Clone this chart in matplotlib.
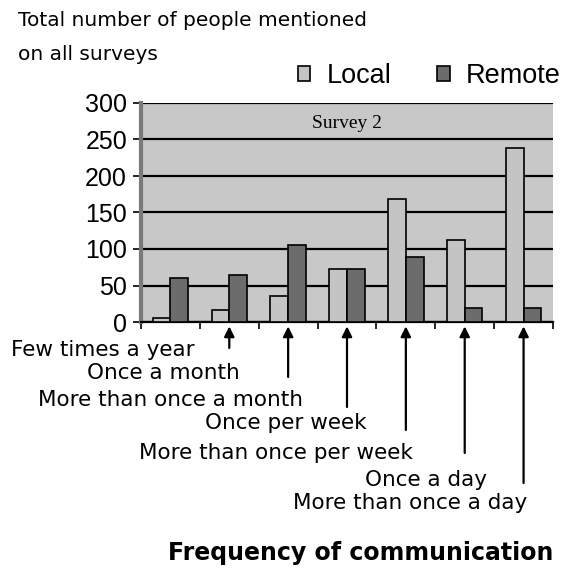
import matplotlib
matplotlib.use('Agg')
import matplotlib.pyplot as plt
import matplotlib.ticker as ticker
import numpy as np
from matplotlib import rcParams

rcParams['font.family'] = 'sans-serif'
rcParams['font.sans-serif'] = ['Liberation Sans Narrow', 'Liberation Sans', 'DejaVu Sans']

categories = ['Few times a year', 'Once a month', 'More than once a month',
              'Once per week', 'More than once per week', 'Once a day',
              'More than once a day']
local = [6, 16, 35, 72, 169, 112, 239]
remote = [60, 64, 105, 73, 89, 19, 19]
yticks = [0, 50, 100, 150, 200, 250, 300]

W, H = 568, 572
fig = plt.figure(figsize=(W / 100, H / 100), dpi=100)
fig.patch.set_facecolor('white')

# plot area in pixels: left 141, right 553, top 103, bottom 322
ax = fig.add_axes([141 / W, 1 - 322 / H, (553 - 141) / W, (322 - 103) / H])
ax.set_facecolor('#c8c8c8')

x = np.arange(len(categories))
bw = 0.3
ax.bar(x - bw / 2, local, bw, color='#c4c4c4', edgecolor='black', lw=1.2,
       label='Local', zorder=3)
ax.bar(x + bw / 2, remote, bw, color='#6c6c6c', edgecolor='black', lw=1.2,
       label='Remote', zorder=3)

ax.set_xlim(-0.5, len(categories) - 0.5)
ax.set_ylim(0, 300)
ax.set_yticks(yticks)
ax.yaxis.grid(True, color='black', lw=1.6, zorder=1)
ax.tick_params(axis='y', length=6, width=1.2, labelsize=18, pad=4)
ax.set_xticks([])
ax.xaxis.set_minor_locator(ticker.FixedLocator(np.arange(len(categories) + 1) - 0.5))
ax.tick_params(axis='x', which='minor', length=5, width=1.2, direction='out')

for s in ['top', 'right']:
    ax.spines[s].set_visible(False)
ax.spines['left'].set_color('#7a7a7a')
ax.spines['left'].set_linewidth(3)
ax.spines['bottom'].set_linewidth(1.6)

ax.text(0.5, 0.905, 'Survey 2', transform=ax.transAxes, ha='center', va='center',
        fontsize=14, family='Liberation Serif')

# legend
leg = ax.legend(loc='lower right', bbox_to_anchor=(1.045, 1.015), ncol=2, frameon=False,
                fontsize=19.5, handlelength=0.45, handleheight=0.45, handletextpad=0.6,
                columnspacing=1.7, borderaxespad=0)

# y label
fig.text(18 / W, 1 - 20 / H, 'Total number of people mentioned', fontsize=14.5,
         va='center', ha='left', family='DejaVu Sans')
fig.text(18 / W, 1 - 55 / H, 'on all surveys', fontsize=14.5, va='center', ha='left',
         family='DejaVu Sans')

# category labels below the axis, with arrows from the group centres
label_right = [195, 240, 303, 367, 413, 487, 527]
label_y = [350, 373, 400, 423, 453, 480, 503]
arrow_tail = [None, 348, 377, 407, 430, 453, 483]
xtrans = ax.get_xaxis_transform()
for i, cat in enumerate(categories):
    fig.text(label_right[i] / W, 1 - label_y[i] / H, cat, fontsize=15.5,
             ha='right', va='center', family='DejaVu Sans')
    if arrow_tail[i] is not None:
        ty = (322 - arrow_tail[i]) / (322 - 103)
        ax.annotate('', xy=(x[i], -0.02), xycoords=xtrans,
                    xytext=(x[i], ty), textcoords=xtrans,
                    arrowprops=dict(arrowstyle='-|>', color='black', lw=1.6,
                                    mutation_scale=15, shrinkA=0, shrinkB=0),
                    annotation_clip=False)

fig.text(553 / W, 1 - 553 / H, 'Frequency of communication', fontsize=17,
         fontweight='bold', ha='right', va='center', family='DejaVu Sans')

plt.savefig('out.png', dpi=100)
